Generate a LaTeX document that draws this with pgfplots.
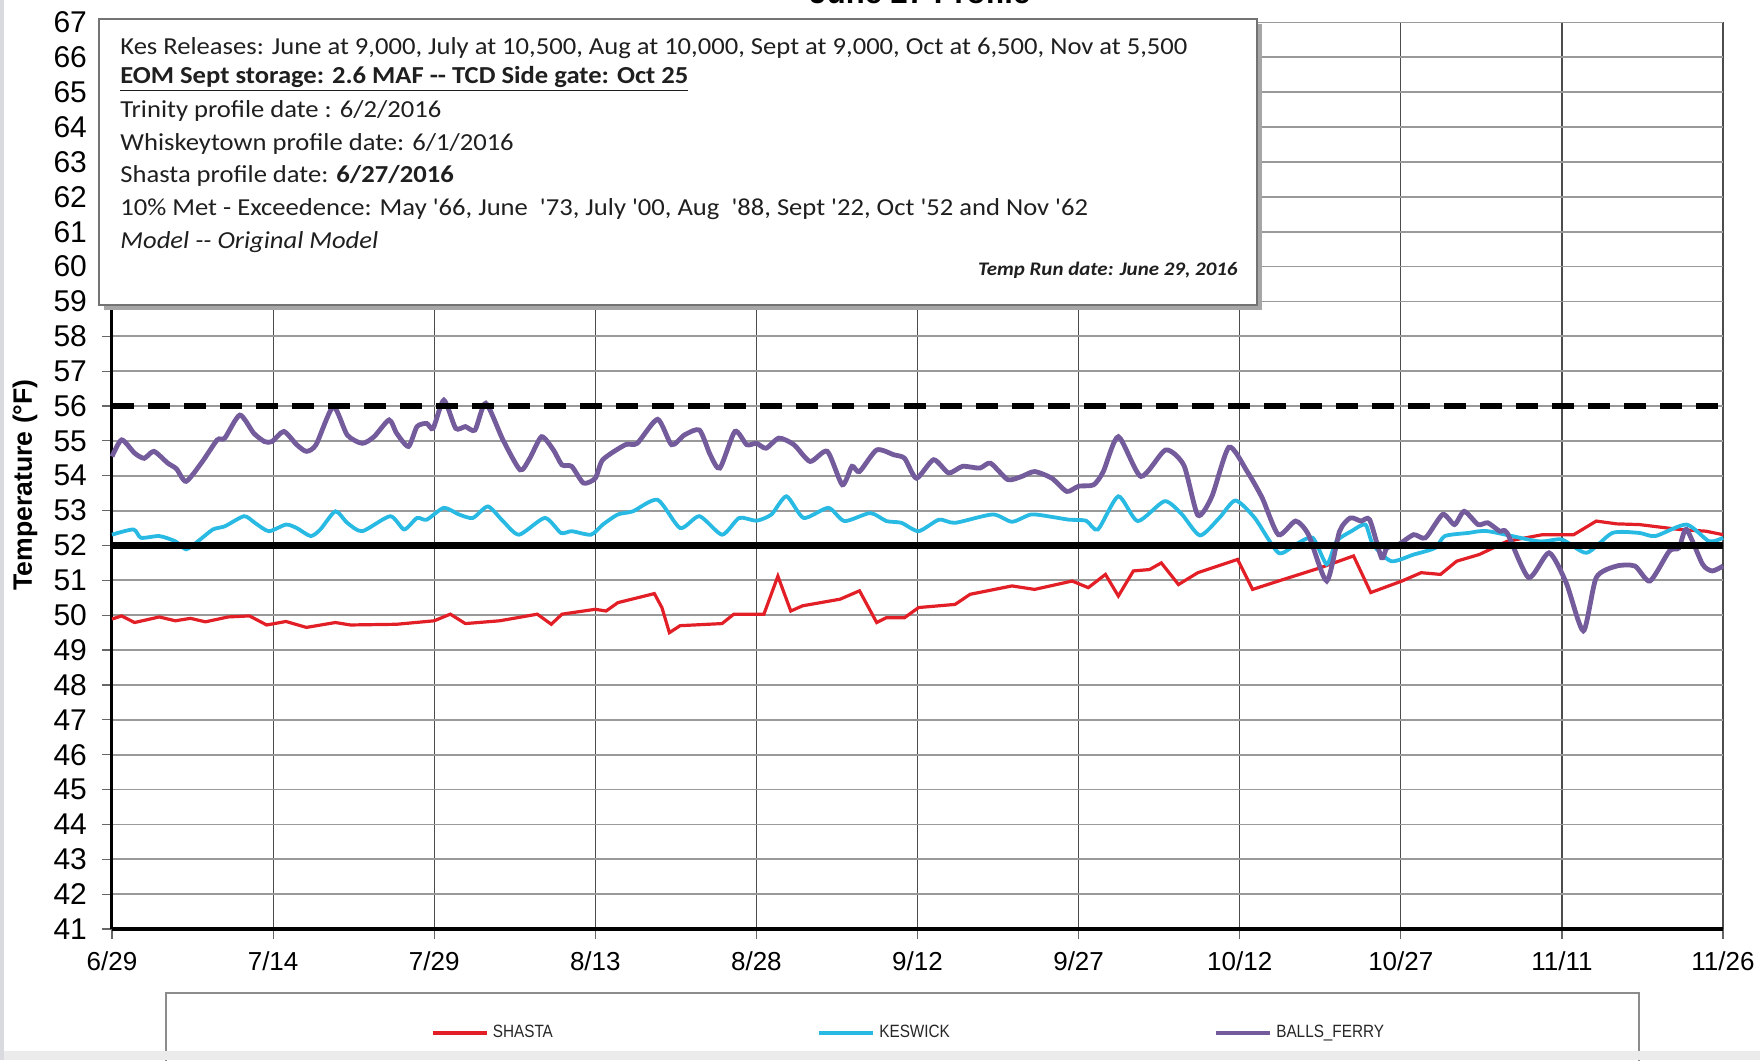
\documentclass[border=0pt]{standalone}
\usepackage{fontspec}
\setmainfont{Liberation Sans}
\newfontfamily\calibri{Carlito}[FakeStretch=1.09]
\newfontfamily\narrowsans{Liberation Sans}[FakeStretch=0.86]
\usepackage{pgfplots}
\pgfplotsset{compat=1.18}

\definecolor{shasta}{RGB}{226,30,38}
\definecolor{keswick}{RGB}{40,186,226}
\definecolor{balls}{RGB}{116,92,156}

\begin{document}
\begin{tikzpicture}
\begin{axis}[
    scale only axis,
    width=805.5pt, height=453.25pt,
    xmin=0, xmax=150, ymin=41, ymax=67,
    clip=false,
    axis lines*=left,
    xtick={0,15,...,150},
    xticklabels={6/29,7/14,7/29,8/13,8/28,9/12,9/27,10/12,10/27,11/11,11/26},
    ytick={41,42,...,67},
    tick align=outside,
    major tick length=5pt,
    tick style={black!60, line width=0.6pt},
    grid=major,
    major x grid style={black!70, line width=0.6pt},
    major y grid style={black!40, line width=0.9pt},
    axis line style={black, line width=1.5pt},
    yticklabel style={font=\fontsize{15}{15}\selectfont,
        /pgf/number format/assume math mode=true, xshift=-4pt},
    xticklabel style={font=\fontsize{13}{13}\selectfont, yshift=-3pt},
    ylabel={Temperature (°F)},
    ylabel style={font=\bfseries\fontsize{13.3}{13.3}\selectfont,
        at={(axis description cs:-0.054,0.49)}, anchor=center},
    legend columns=3,
    legend style={at={(axis description cs:0.1974,-0.1147)}, anchor=west,
        draw=none, fill=none, inner sep=0pt,
        font=\narrowsans\fontsize{8.9}{9}\selectfont, text=black!85,
        /tikz/every even column/.append style={column sep=130pt}},
    legend image code/.code={\draw[#1, line width=2.2pt] (0pt,0pt) -- (27pt,0pt);},
]

% SHASTA
\addplot[shasta, line width=1.6pt] coordinates {
(0,49.89) (0.9,49.98) (2.1,49.79) (4.4,49.95) (5.9,49.84) (7.3,49.91) (8.7,49.81)
(10.8,49.95) (12.8,49.98) (14.4,49.72) (16.2,49.82) (18.1,49.65) (20.8,49.79)
(22.2,49.72) (26.5,49.74) (30,49.84) (31.5,50.03) (32.9,49.76) (36.1,49.84)
(39.6,50.03) (40.9,49.74) (41.9,50.03) (45,50.17) (46,50.12) (47.1,50.36)
(50.5,50.62) (51.2,50.22) (51.9,49.5) (52.9,49.7) (56.8,49.76) (57.9,50.03)
(60.7,50.03) (62,51.12) (63.2,50.12) (64.3,50.27) (67.8,50.46) (69.6,50.7)
(71.2,49.79) (72.1,49.93) (73.8,49.93) (75.1,50.22) (78.5,50.31) (79.9,50.6)
(83.8,50.84) (85.9,50.74) (89.4,50.98) (90.9,50.79) (92.5,51.17) (93.7,50.55)
(95.1,51.27) (96.6,51.31) (97.7,51.5) (99.3,50.88) (101.1,51.22) (104.8,51.6)
(106.2,50.74) (108.6,50.98) (112.5,51.36) (115.6,51.7) (117.2,50.65) (120.1,50.98)
(121.9,51.22) (123.7,51.17) (125.2,51.55) (127.3,51.74) (129.9,52.12) (133.2,52.31)
(136.1,52.31) (138.2,52.7) (140.1,52.62) (142.2,52.6) (145.9,52.46) (148.4,52.41)
(150,52.31)
};
\addlegendentry{SHASTA}

% KESWICK
\addplot[keswick, line width=1.9pt, smooth, tension=0.4] coordinates {
(0,52.31) (2,52.46) (2.7,52.22) (4.4,52.27) (5.9,52.12) (6.9,51.89) (8,52.12)
(9.4,52.46) (10.5,52.55) (12.3,52.84) (13.3,52.65) (14.6,52.41) (16.2,52.6)
(17.2,52.5) (18.5,52.27) (19.4,52.46) (20.8,52.98) (21.9,52.65) (23.3,52.41)
(25.9,52.84) (27.2,52.46) (28.4,52.79) (29.3,52.74) (30.9,53.08) (32.3,52.89)
(33.6,52.79) (35,53.12) (36.4,52.7) (37.9,52.31) (40.3,52.79) (41.8,52.36)
(42.8,52.41) (44.6,52.31) (45.7,52.6) (47.1,52.89) (48.5,52.98) (50.8,53.31)
(52.9,52.5) (54.7,52.84) (56.8,52.31) (58.4,52.79) (60,52.71) (61.4,52.89)
(62.8,53.41) (64.4,52.79) (66.7,53.08) (68.2,52.7) (70.6,52.93) (72.1,52.7)
(73.5,52.65) (75.1,52.41) (77,52.74) (78.5,52.65) (82,52.89) (83.8,52.68)
(85.6,52.89) (87.7,52.81) (89.1,52.74) (90.7,52.71) (91.8,52.46) (93.7,53.41)
(95.5,52.7) (98,53.27) (99.6,52.9) (101.3,52.29) (103.1,52.79) (104.6,53.29)
(106.4,52.79) (108.6,51.79) (110.2,52.03) (111.8,52.22) (113.1,51.46) (114,52.12)
(115.4,52.41) (116.7,52.6) (117.4,52.03) (119.1,51.55) (121.2,51.74) (123.2,51.93)
(124.1,52.27) (126.3,52.36) (128.1,52.41) (132.8,52.12) (135,52.17) (137.3,51.79)
(139.7,52.36) (142.2,52.36) (143.7,52.27) (146.6,52.6) (148.7,52.12) (150,52.22)
};
\addlegendentry{KESWICK}

% BALLS_FERRY
\addplot[balls, line width=2.4pt, smooth, tension=0.4] coordinates {
(0,54.55) (0.9,55.03) (2.1,54.65) (3,54.5) (3.9,54.7) (5.2,54.36) (6,54.2)
(6.9,53.84) (8.4,54.4) (9.8,55.03) (10.5,55.08) (11.9,55.74) (13.2,55.22)
(14.2,54.98) (14.9,54.98) (16,55.27) (17.2,54.89) (18.1,54.7) (19,54.89)
(20.6,55.98) (21.9,55.17) (23.3,54.93) (24.4,55.12) (25.8,55.6) (26.5,55.22)
(27.6,54.84) (28.4,55.41) (29.3,55.5) (29.9,55.36) (30.9,56.17) (32,55.36)
(32.9,55.41) (33.8,55.31) (34.8,56.08) (36.4,55.03) (38,54.17) (38.9,54.5)
(40,55.12) (41.1,54.74) (41.9,54.31) (42.8,54.27) (43.9,53.79) (45,53.93)
(45.7,54.46) (47.8,54.89) (48.9,54.93) (50.8,55.62) (52.1,54.89) (53.3,55.17)
(54.7,55.31) (55.7,54.6) (56.6,54.22) (58,55.27) (59.1,54.89) (60,54.93)
(60.9,54.79) (62.1,55.08) (63.5,54.89) (65,54.41) (66.6,54.7) (68,53.74)
(68.9,54.27) (69.6,54.12) (71.2,54.74) (72.8,54.6) (73.8,54.5) (74.9,53.93)
(76.5,54.46) (77.9,54.08) (79.2,54.27) (80.8,54.22) (81.8,54.36) (83.4,53.89)
(84.7,53.98) (85.9,54.12) (87.5,53.93) (88.9,53.55) (90,53.7) (91.4,53.74)
(92.3,54.12) (93.7,55.12) (95.8,53.98) (98.1,54.74) (99.8,54.3) (101.1,52.87)
(102.4,53.4) (104,54.82) (105.7,54.12) (107.1,53.36) (108.6,52.31) (110.2,52.7)
(111.4,52.31) (113.1,50.98) (114.3,52.41) (115.3,52.79) (116.3,52.7) (117.1,52.74)
(118.2,51.65) (118.7,51.93) (119.8,52.03) (121.2,52.31) (122.3,52.22) (123.9,52.89)
(125,52.6) (125.9,52.98) (127.2,52.6) (128.1,52.65) (129.2,52.41) (129.9,52.36)
(131.9,51.08) (133.8,51.79) (135.4,50.93) (137,49.55) (138.2,51.08) (140.1,51.41)
(141.8,51.41) (143.2,50.98) (145,51.84) (145.9,51.93) (146.6,52.46) (148.1,51.46)
(149,51.27) (150,51.41)
};
\addlegendentry{BALLS\_FERRY}

% reference temperatures
\addplot[black, line width=2.6pt, dash pattern=on 11pt off 7pt, forget plot]
    coordinates {(0,56) (150,56)};
\addplot[black, line width=3.8pt, forget plot]
    coordinates {(0,52) (150,52)};
\addplot[black, line width=2pt, forget plot]
    coordinates {(0,41) (150,41)};
\end{axis}

% title (cut at the top of the picture, as in the source)
\node[anchor=base, font=\bfseries\fontsize{15.5}{15.5}\selectfont] at (404pt,462.5pt) {June 27 Profile};

% note box
\fill[black!35] (-4pt,309.5pt) rectangle (575pt,452.5pt);
\draw[black!55, line width=0.9pt, fill=white] (-6.5pt,312pt) rectangle (572.5pt,455pt);
\begin{scope}[every node/.style={anchor=west, inner sep=0pt, text=black!88,
    font=\calibri\fontsize{12.2}{12.2}\selectfont}]
\node at (4pt,440.4pt) {Kes Releases: June at 9,000, July at 10,500, Aug at 10,000, Sept at 9,000, Oct at 6,500, Nov at 5,500};
\node at (4pt,425.2pt) {\bfseries\underline{EOM Sept storage: 2.6 MAF -{}- TCD Side gate: Oct 25}};
\node at (4pt,409pt) {Trinity profile date : 6/2/2016};
\node at (4pt,392.7pt) {Whiskeytown profile date: 6/1/2016};
\node at (4pt,376.4pt) {Shasta profile date: \textbf{6/27/2016}};
\node at (4pt,360.1pt) {10\% Met - Exceedence: May '66, June~~'73, July '00, Aug~~'88, Sept '22, Oct '52 and Nov '62};
\node at (4pt,343.3pt) {\itshape Model -{}- Original Model};
\node[anchor=east, font=\calibri\bfseries\itshape\fontsize{9.6}{9.6}\selectfont] at (563pt,329.3pt) {Temp Run date: June 29, 2016};
\end{scope}

% legend frame and window edges
\draw[black!45, line width=0.9pt] (27pt,-90pt) rectangle (763.5pt,-32pt);
\fill[blue!8!black!8] (-56pt,-65.5pt) rectangle (824pt,-61pt);
\fill[blue!20!black!15] (-56pt,-65.5pt) rectangle (-54pt,464.5pt);

\pgfresetboundingbox
\useasboundingbox (-56pt,-65.5pt) rectangle (824pt,464.5pt);
\end{tikzpicture}
\end{document}
